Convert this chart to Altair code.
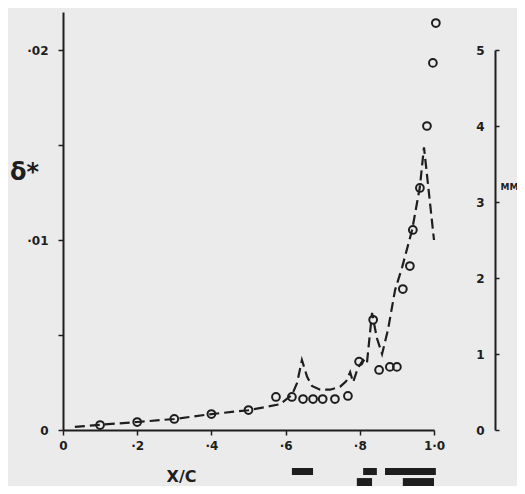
import altair as alt
import pandas as pd

# measured points (circles): x/c and delta*
circ_x = [0.10, 0.20, 0.30, 0.40, 0.50, 0.574, 0.617, 0.647, 0.674, 0.70, 0.733, 0.768,
          0.798, 0.836, 0.852, 0.881, 0.90, 0.916, 0.935, 0.943, 0.962, 0.981, 0.997, 1.005]
circ_d = [0.00026, 0.00042, 0.00058, 0.00084, 0.00105, 0.00174, 0.00174, 0.00163, 0.00163,
          0.00163, 0.00163, 0.00179, 0.0036, 0.0058, 0.00316, 0.00332, 0.00332, 0.00742,
          0.00863, 0.01053, 0.01274, 0.0160, 0.01932, 0.02142]

# dashed curve: x/c and MM
line_x = [0.032, 0.105, 0.20, 0.30, 0.40, 0.50, 0.585, 0.617, 0.631, 0.644, 0.658, 0.671,
          0.693, 0.72, 0.747, 0.763, 0.774, 0.782, 0.795, 0.809, 0.819, 0.833, 0.846, 0.86,
          0.876, 0.895, 0.914, 0.941, 0.962, 0.973, 0.987, 1.0]
line_mm = [0.04, 0.07, 0.105, 0.145, 0.21, 0.26, 0.34, 0.46, 0.62, 0.92, 0.70, 0.58,
           0.53, 0.53, 0.57, 0.64, 0.76, 0.63, 0.82, 0.92, 0.87, 1.54, 1.21, 1.0,
           1.32, 1.84, 2.14, 2.63, 3.2, 3.72, 3.09, 2.5]

# black indicator bars under the axis (x range, row level in delta* units)
bar_x1 = [0.617, 0.809, 0.868, 0.792, 0.916]
bar_x2 = [0.674, 0.846, 1.005, 0.833, 1.0]
bar_y1 = [-0.0020, -0.0020, -0.0020, -0.00253, -0.00253]
bar_y2 = [-0.00237, -0.00237, -0.00237, -0.00295, -0.00295]

circ = pd.DataFrame({"x": circ_x, "d": circ_d})
line = pd.DataFrame({"x": line_x, "mm": line_mm})
bars = pd.DataFrame({"x1": bar_x1, "x2": bar_x2, "y1": bar_y1, "y2": bar_y2})

INK = "#1e1e1e"
FONT = "DejaVu Sans"

xscale = alt.Scale(domain=[0, 1], nice=False, zero=False)
dscale = alt.Scale(domain=[0, 0.022], nice=False)

xaxis = alt.Axis(
    values=[0, 0.2, 0.4, 0.6, 0.8, 1.0],
    labelExpr="datum.value == 0 ? '0' : (datum.value >= 1 ? '1·0' : '·' + format(datum.value*10, '.0f'))",
    title="X/C", titleX=118, titleY=46, titleAngle=0, titleFontSize=16,
    titleBaseline="middle", titleAlign="center",
    titleFont=FONT, titleFontWeight="bold", titleColor=INK,
    labelFont=FONT, labelFontSize=12, labelFontWeight="bold", labelColor=INK,
    labelPadding=5, tickSize=5, tickColor=INK, tickWidth=1.5,
    domainColor=INK, domainWidth=2, grid=False, labelFlush=False,
)

daxis = alt.Axis(
    values=[0, 0.005, 0.01, 0.015, 0.02],
    labelExpr="datum.value == 0 ? '0' : (abs(datum.value-0.01) < 1e-6 ? '·01' : (abs(datum.value-0.02) < 1e-6 ? '·02' : ''))",
    title="δ*", titleX=-39, titleY=160, titleAngle=0, titleAlign="center",
    titleBaseline="middle", titleFontSize=24, titleFont=FONT, titleColor=INK,
    titleFontWeight="bold",
    labelFont=FONT, labelFontSize=12, labelFontWeight="bold", labelColor=INK,
    labelPadding=10, tickSize=5, tickColor=INK, tickWidth=1.5,
    domainColor=INK, domainWidth=2, grid=False,
)

mmaxis = alt.Axis(
    orient="right", offset=61,
    values=[0, 1, 2, 3, 4, 5], format="d",
    title="MM", titleX=14, titleY=174, titleAngle=0, titleAlign="center",
    titleBaseline="middle", titleFontSize=9, titleFont=FONT,
    titleFontWeight="bold", titleColor=INK,
    labelFont=FONT, labelFontSize=12, labelFontWeight="bold", labelColor=INK,
    labelAlign="right", labelPadding=-15, tickSize=4, tickColor=INK,
    tickWidth=1.5, domainColor=INK, domainWidth=2, grid=False,
)

points = alt.Chart(circ).mark_point(
    shape="circle", filled=False, size=60, strokeWidth=2, color=INK,
    opacity=1, clip=False
).encode(
    x=alt.X("x:Q", scale=xscale, axis=xaxis),
    y=alt.Y("d:Q", scale=dscale, axis=daxis),
)

indicator = alt.Chart(bars).mark_rect(color=INK, clip=False).encode(
    x=alt.X("x1:Q", scale=xscale),
    x2="x2:Q",
    y=alt.Y("y1:Q", scale=dscale),
    y2="y2:Q",
)

left = alt.layer(points, indicator)

dashed = alt.Chart(line).mark_line(
    color=INK, strokeWidth=2.2, strokeDash=[10, 5], clip=False
).encode(
    x=alt.X("x:Q", scale=xscale),
    y=alt.Y("mm:Q", scale=alt.Scale(domain=[0, 5], range=[418, 38], nice=False), axis=mmaxis),
)

chart = alt.layer(left, dashed).resolve_scale(y="independent").properties(
    width=371, height=418,
    autosize=alt.AutoSizeParams(type="none"),
    padding={"left": 55, "top": 4, "right": 83, "bottom": 56},
    background="#ebebeb",
).configure_view(stroke=None)

chart.save("out.html", embed_options={"renderer": "svg", "actions": False})
